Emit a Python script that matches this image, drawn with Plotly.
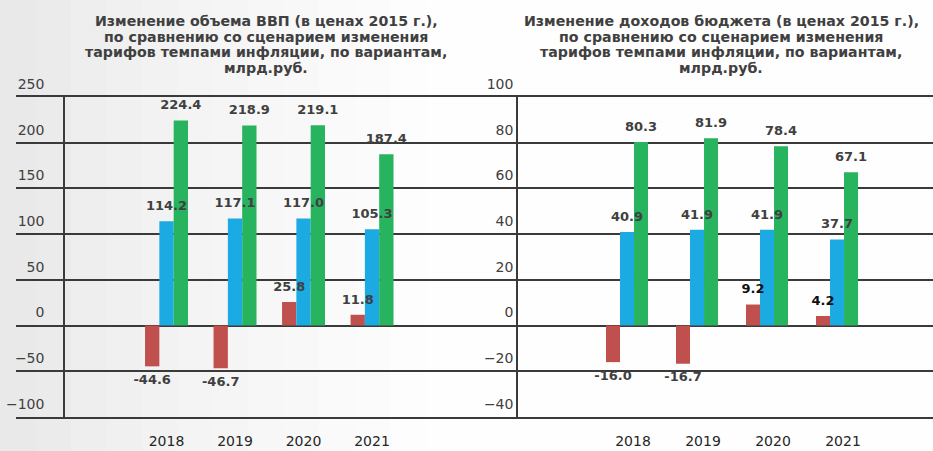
import plotly.graph_objects as go

years = ["2018", "2019", "2020", "2021"]

gdp_red = [-44.6, -46.7, 25.8, 11.8]
gdp_blue = [114.2, 117.1, 117.0, 105.3]
gdp_green = [224.4, 218.9, 219.1, 187.4]

bud_red = [-16.0, -16.7, 9.2, 4.2]
bud_blue = [40.9, 41.9, 41.9, 37.7]
bud_green = [80.3, 81.9, 78.4, 67.1]

gdp_ticks = [-100, -50, 0, 50, 100, 150, 200, 250]
bud_ticks = [-40, -20, 0, 20, 40, 60, 80, 100]

title_left = ["Изменение объема ВВП (в ценах 2015 г.),",
              "по сравнению со сценарием изменения",
              "тарифов темпами инфляции, по вариантам,",
              "млрд.руб."]
title_right = ["Изменение доходов бюджета (в ценах 2015 г.),",
               "по сравнению со сценарием изменения",
               "тарифов темпами инфляции, по вариантам,",
               "млрд.руб."]

RED = "#C0504D"
BLUE = "#1BAAE1"
GREEN = "#28B35E"
TXT = "#404040"
GRID = "#3a3a3a"
FONT = "DejaVu Sans"

W, H = 933, 451

fig = go.Figure()
idx = list(range(len(years)))

label_traces = []


def add_series(vals, color, slot, bw, xa, ya, label_colors=None):
    # slot: -1 (left), 0 (centre), +1 (right) inside each year group
    fig.add_trace(go.Bar(
        x=idx, y=vals, width=bw, offset=(slot - 0.5) * bw,
        marker=dict(color=color, line=dict(width=0)),
        xaxis=xa, yaxis=ya, showlegend=False, hoverinfo="x+y",
    ))
    label_traces.append(go.Scatter(
        x=[i + slot * bw for i in idx], y=vals, mode="markers+text",
        marker=dict(size=11, color="rgba(0,0,0,0)"),
        text=[f"{v:.1f}" for v in vals],
        textposition=["top center" if v >= 0 else "bottom center" for v in vals],
        textfont=dict(family=FONT, size=13, color=label_colors or TXT, weight="bold"),
        cliponaxis=False, xaxis=xa, yaxis=ya, showlegend=False, hoverinfo="skip",
    ))


BW_L, BW_R = 0.209, 0.2
add_series(gdp_red, RED, -1, BW_L, "x", "y")
add_series(gdp_blue, BLUE, 0, BW_L, "x", "y")
add_series(gdp_green, GREEN, 1, BW_L, "x", "y")
add_series(bud_red, RED, -1, BW_R, "x2", "y2",
           label_colors=["#404040", "#404040", "#111111", "#111111"])
add_series(bud_blue, BLUE, 0, BW_R, "x2", "y2")
add_series(bud_green, GREEN, 1, BW_R, "x2", "y2")
for t in label_traces:
    fig.add_trace(t)

ydom = [(H - 417) / H, (H - 97) / H]

common_y = dict(
    showgrid=True, gridcolor=GRID, gridwidth=1.5,
    zeroline=True, zerolinecolor=GRID, zerolinewidth=1.5,
    showline=True, linecolor=GRID, linewidth=1.5,
    ticks="", anchor="free",
    tickfont=dict(family=FONT, size=14, color=TXT),
    ticklabelshift=-13, automargin=False,
    domain=ydom,
)

common_x = dict(
    showgrid=False, zeroline=False,
    showline=True, mirror=True, linecolor=GRID, linewidth=1.5,
    tickvals=idx, ticktext=years,
    ticks="", tickfont=dict(family=FONT, size=14, color="#262626"),
    ticklabelstandoff=10, automargin=False,
)

fig.update_layout(
    width=W, height=H, autosize=False,
    margin=dict(l=0, r=0, t=0, b=0, pad=0),
    paper_bgcolor="#fefefe",
    plot_bgcolor="rgba(0,0,0,0)",
    barmode="overlay",
    xaxis=dict(common_x, domain=[16 / W, 470 / W], range=[-2.197, 4.43],
               anchor="y"),
    xaxis2=dict(common_x, domain=[470 / W, 1.0], range=[-2.243, 4.371],
                anchor="y2", ticklabelshift=6),
    yaxis=dict(common_y, range=[-100, 250], tickvals=gdp_ticks,
               position=64 / W, ticklabelstandoff=16),
    yaxis2=dict(common_y, range=[-40, 100], tickvals=bud_ticks,
                position=517 / W, ticklabelstandoff=0),
)

# soft grey background gradient on the left side (decorative)
bands = ["#e9e9e9", "#ebebeb", "#eeeeee", "#f0f0f0", "#f2f2f2", "#f4f4f4",
         "#f5f5f5", "#f7f7f7", "#f8f8f8", "#fafafa", "#fbfbfb", "#fdfdfd"]
step = 0.038
for i, c in enumerate(bands):
    fig.add_shape(type="rect", xref="paper", yref="paper",
                  x0=i * step, x1=(i + 1) * step + 0.002, y0=0, y1=1,
                  fillcolor=c, line=dict(width=0), layer="below")

line_y = [21, 37, 52, 68]
for lines, cx in ((title_left, 266), (title_right, 721)):
    for txt, yy in zip(lines, line_y):
        fig.add_annotation(
            text=txt, x=cx / W, y=1 - yy / H, xref="paper", yref="paper",
            xanchor="center", yanchor="middle", showarrow=False,
            font=dict(family=FONT, size=14.2, color=TXT, weight="bold"),
        )

fig.write_html("out.html")
